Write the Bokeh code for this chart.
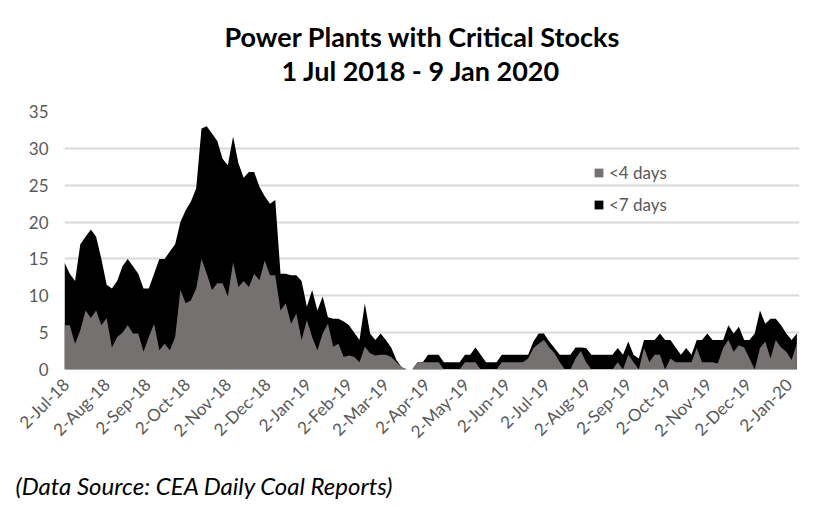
import pandas as pd
from bokeh.plotting import figure
from bokeh.models import ColumnDataSource, FixedTicker, Legend, LegendItem, Title
from bokeh.embed import file_html
from bokeh.resources import INLINE

# ---- data (one value every 4 days from 1 Jul 2018) ----
start_date = "2018-07-01"
step_days = 4
below_7_days = [14.5, 13, 12, 17, 18, 19, 18, 15, 11.5, 11, 12, 14, 15, 14, 13, 11,
                11, 13, 15, 15, 16, 17, 20, 21.6, 22.8, 24.6, 32.7, 33, 32, 31, 28.6, 27.7,
                31.6, 28, 26, 26.8, 26.8, 24.8, 23.5, 22.5, 23, 13, 13, 12.8, 12.8, 12,
                8.5, 10.8, 8, 9.9, 7.1, 6.9, 6.9, 6.5, 6, 5, 4, 9, 4.9, 4, 4.9, 4,
                3, 1.3, 0.3, 0, 0, 1, 1, 2, 2, 2, 1, 1, 1, 1, 2, 2,
                3, 2, 1, 1, 1, 2, 2, 2, 2, 2, 2, 3.8, 4.9, 4.9, 3.8, 2.9,
                2, 2, 2, 3, 3, 2.9, 2, 2, 2, 2, 2, 2.9, 2, 3.8, 2, 1.5,
                4, 4, 4, 4.9, 4, 4, 3, 2, 2.9, 2, 4, 4, 4.9, 4, 4, 4,
                6, 4.9, 5.8, 4, 4, 4.9, 8, 6.2, 6.9, 6.9, 6, 4.9, 4, 4.9]
below_4_days = [6, 6, 3.5, 5.3, 8, 7, 8, 6, 7, 3, 4.4, 5, 6, 4.9, 4.9, 2.4,
                4.4, 6.2, 2.6, 3.5, 2.6, 4.4, 10.8, 9, 9.4, 11, 15, 13, 10.8, 11.7, 11.7, 9.9,
                14.5, 11.2, 12, 11.2, 13, 12.1, 14.8, 12.8, 12.8, 8, 9, 6.2, 7.6, 4,
                6.7, 4.4, 2.6, 4.9, 6.2, 3.1, 3.5, 1.7, 1.9, 1.7, 1, 3.1, 2.2, 1.9, 2, 2,
                1.7, 1, 0.3, 0, 0, 1, 1, 1, 1, 1, 0, 0, 0, 0, 1, 1,
                1, 0, 0, 0, 0, 1, 1, 1, 1, 1, 1.5, 2.9, 3.5, 4, 3, 2.2,
                1, 0, 0, 1.5, 2.5, 1, 0, 0, 0, 0, 0, 1, 0, 2, 1, 0,
                2.9, 1, 2, 2, 0, 1.5, 1, 1, 1, 1, 2.9, 1, 1, 1, 0.8, 2.9,
                4, 2.4, 3.3, 3, 1.5, 0, 2.9, 3.8, 1.5, 4, 3, 2.4, 1.3, 3.5]
tick_labels = ["2-Jul-18", "2-Aug-18", "2-Sep-18", "2-Oct-18", "2-Nov-18", "2-Dec-18",
               "2-Jan-19", "2-Feb-19", "2-Mar-19", "2-Apr-19", "2-May-19", "2-Jun-19",
               "2-Jul-19", "2-Aug-19", "2-Sep-19", "2-Oct-19", "2-Nov-19", "2-Dec-19",
               "2-Jan-20"]
y_ticks = [0, 5, 10, 15, 20, 25, 30, 35]
end_date = "2020-01-09"

t0 = pd.Timestamp(start_date)
days = [i * step_days for i in range(len(below_7_days))]
total_days = (pd.Timestamp(end_date) - t0).days + 1
tick_days = [(pd.to_datetime(t, format="%d-%b-%y") - t0).days for t in tick_labels]

src = ColumnDataSource(dict(x=days, lt7=below_7_days, lt4=below_4_days))

GREY_TXT = "#595959"
FONT = "Lato"

p = figure(width=822, height=515, x_range=(0, total_days), y_range=(0, 35),
           output_backend="svg", toolbar_location=None,
           min_border_left=64, min_border_right=23, min_border_top=111, min_border_bottom=146)
p.outline_line_color = None
p.background_fill_color = "white"

r7 = p.varea(x="x", y1=0, y2="lt7", source=src, fill_color="#000000")
r4 = p.varea(x="x", y1=0, y2="lt4", source=src, fill_color="#767171")

# axes
p.yaxis.ticker = FixedTicker(ticks=y_ticks)
p.yaxis.axis_line_color = None
p.yaxis.major_tick_line_color = None
p.yaxis.minor_tick_line_color = None
p.yaxis.major_label_text_font = FONT
p.yaxis.major_label_text_font_size = "17px"
p.yaxis.major_label_text_color = GREY_TXT
p.yaxis.major_label_standoff = 10

p.xaxis.ticker = FixedTicker(ticks=tick_days)
p.xaxis.major_label_overrides = {d: t for d, t in zip(tick_days, tick_labels)}
p.xaxis.major_label_orientation = 0.785398
p.xaxis.axis_line_color = None
p.xaxis.major_tick_line_color = None
p.xaxis.minor_tick_line_color = None
p.xaxis.major_label_text_font = FONT
p.xaxis.major_label_text_font_size = "17px"
p.xaxis.major_label_text_color = GREY_TXT
p.xaxis.major_label_standoff = 6

p.xgrid.grid_line_color = None
p.ygrid.grid_line_color = "#d9d9d9"
p.ygrid.grid_line_width = 2

legend = Legend(items=[LegendItem(label="<4 days", renderers=[r4]),
                       LegendItem(label="<7 days", renderers=[r7])],
                location=(529, 154), background_fill_alpha=0, border_line_alpha=0,
                glyph_width=11, glyph_height=11, label_height=18, spacing=11,
                padding=0, margin=0, label_standoff=5,
                label_text_font=FONT, label_text_font_size="17px", label_text_color=GREY_TXT)
p.add_layout(legend, "center")

# titles: the line added first sits next to the plot area
sub = Title(text="1 Jul 2018 - 9 Jan 2020", align="left", offset=217, standoff=50,
            text_font=FONT, text_font_size="27px", text_font_style="bold", text_color="#000000")
main = Title(text="Power Plants with Critical Stocks", align="left", offset=160, standoff=-52,
             text_font=FONT, text_font_size="27px", text_font_style="bold", text_color="#000000")
p.add_layout(sub, "above")
p.add_layout(main, "above")

note = Title(text="(Data Source: CEA Daily Coal Reports)", align="left", offset=-49, standoff=32,
             text_font=FONT, text_font_size="24px", text_font_style="italic", text_color="#000000")
p.add_layout(note, "below")

open("out.html", "w").write(file_html(p, INLINE))
